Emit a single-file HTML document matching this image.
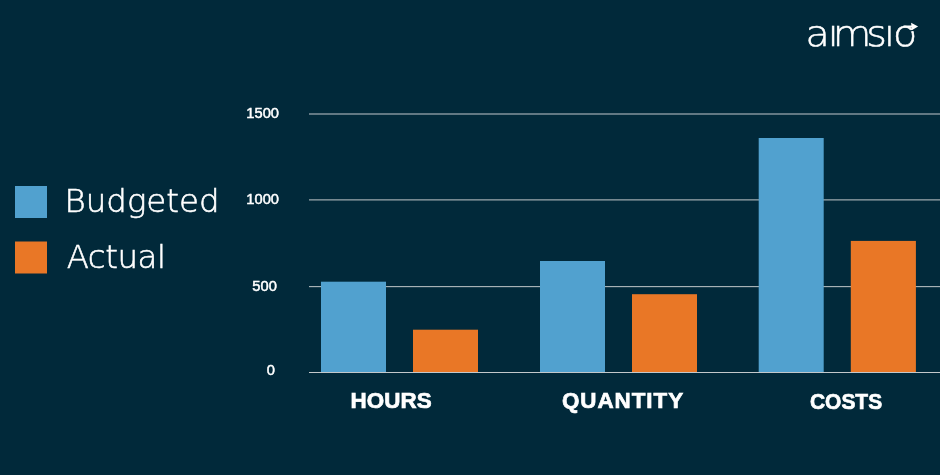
<!DOCTYPE html>
<html lang="en">
<head>
<meta charset="utf-8">
<title>aimsio – Budgeted vs Actual</title>
<style>
html,body{margin:0;padding:0;}
body{width:940px;height:475px;background:#01293a;overflow:hidden;position:relative;font-family:"Liberation Sans",sans-serif;color:#fff;}
#shapes{position:absolute;left:0;top:0;width:940px;height:475px;display:block;}
.t{position:absolute;white-space:nowrap;line-height:1;margin:0;padding:0;}
.tick{font-family:"Liberation Sans",sans-serif;font-weight:normal;font-size:14.7px;color:#fff;-webkit-text-stroke:0.5px #fff;}
.cat{font-family:"Liberation Sans",sans-serif;font-weight:bold;font-size:22.4px;color:#fff;-webkit-text-stroke:0.7px #fff;}
.leg{font-family:"DejaVu Sans Light","DejaVu Sans",sans-serif;font-weight:200;font-size:32.4px;color:#fff;-webkit-text-stroke:0.55px #fff;}
</style>
</head>
<body>
<svg id="shapes" width="940" height="475" viewBox="0 0 940 475">
  <!-- grid lines -->
  <g fill="#c3c8cb">
    <rect x="309" y="113.5" width="631" height="1"/>
    <rect x="309" y="199.4" width="631" height="1"/>
    <rect x="309" y="286.15" width="631" height="1"/>
  </g>
  <!-- bars -->
  <g fill="#51a1cf">
    <rect x="321" y="281.7" width="65" height="90.3"/>
    <rect x="540" y="261" width="65" height="111"/>
    <rect x="758.7" y="138" width="65" height="234"/>
  </g>
  <g fill="#e97726">
    <rect x="413" y="329.7" width="65" height="42.3"/>
    <rect x="632" y="294.2" width="65" height="77.8"/>
    <rect x="850.8" y="240.9" width="65.1" height="131.1"/>
  </g>
  <rect x="309" y="372" width="631" height="1" fill="#c3c8cb"/>
  <!-- legend swatches -->
  <rect x="15" y="186" width="32" height="32" fill="#51a1cf"/>
  <rect x="15" y="241.5" width="32" height="32" fill="#e97726"/>
  <!-- logo -->
  <clipPath id="lc"><rect x="800" y="24.4" width="125" height="26"/></clipPath>
  <g clip-path="url(#lc)">
    <text transform="scale(1.1,1)" x="732.26 752.50 756.95 787.47 803.65 811.82" y="45.8" font-family="'DejaVu Sans Light','DejaVu Sans',sans-serif" font-weight="200" font-size="36" fill="#fff" stroke="#fff" stroke-width="0.5">aimsio</text>
  </g>
  <!-- logo arrow -->
  <g fill="none" stroke="#fff" stroke-width="2" stroke-linecap="round">
    <path d="M904 26.4 L913 26.4"/>
  </g>
  <path d="M909 31.2 L916.5 29.6" fill="none" stroke="#01293a" stroke-width="1.3"/>
  <path d="M911.1 22.7 L918.1 26.4 L911.8 30.3 Z" fill="#fff"/>
</svg>


<div class="t leg" style="left:64.5px;top:185px;letter-spacing:0.03px;">Budgeted</div>
<div class="t leg" style="left:66.7px;top:241px;letter-spacing:-0.45px;">Actual</div>

<div class="t tick" style="left:246.3px;top:106px;">1500</div>
<div class="t tick" style="left:246.3px;top:192px;">1000</div>
<div class="t tick" style="left:252.3px;top:279px;">500</div>
<div class="t tick" style="left:266.7px;top:363px;">0</div>

<div class="t cat" style="left:350.6px;top:390.2px;letter-spacing:0.08px;">HOURS</div>
<div class="t cat" style="left:562px;top:389.7px;letter-spacing:0.95px;">QUANTITY</div>
<div class="t cat" style="left:809.9px;top:391.1px;transform-origin:0 0;transform:scaleX(0.935);">COSTS</div>
</body>
</html>
